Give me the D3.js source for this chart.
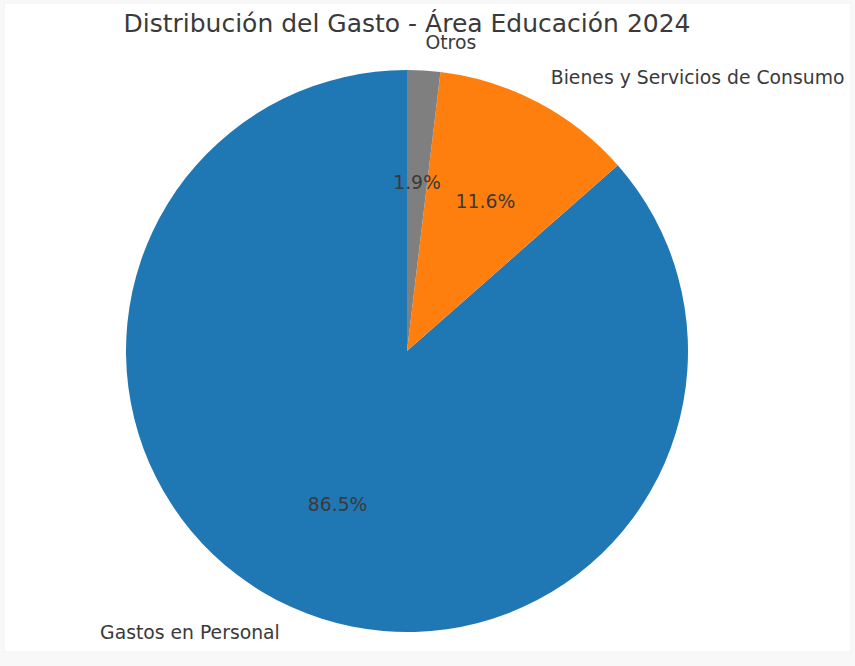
<!DOCTYPE html>
<html>
<head>
<meta charset="utf-8">
<script src="https://cdn.jsdelivr.net/npm/d3@7"></script>
<style>
  body { margin: 0; background: #f8f8f8; }
  svg { display: block; }
</style>
</head>
<body>
<svg id="chart" width="855" height="666"></svg>
<script>
const categories = ["Gastos en Personal", "Bienes y Servicios de Consumo", "Otros"];
const values = [86.5, 11.6, 1.9];
const colors = ["#1f77b4", "#ff7f0e", "#7f7f7f"];
const title = "Distribución del Gasto - Área Educación 2024";

const width = 855;
const height = 666;
const cx = 407;
const cy = 351;
const radius = 281;

const svg = d3.select("#chart");

// light frame like the screenshot
svg.append("rect")
  .attr("x", 4)
  .attr("y", 3)
  .attr("width", 847)
  .attr("height", 649)
  .attr("fill", "#fff")
  .attr("stroke", "#f1f1f1");

svg.append("text")
  .attr("x", cx)
  .attr("y", 32)
  .attr("text-anchor", "middle")
  .attr("font-family", "DejaVu Sans")
  .attr("font-size", 25)
  .attr("fill", "#3a3a3a")
  .text(title);

const data = categories.map((c, i) => ({ name: c, value: values[i], color: colors[i] }));

// matplotlib style: start at top, go counter-clockwise
const pie = d3.pie()
  .sort(null)
  .value((d) => d.value)
  .startAngle(0)
  .endAngle(-2 * Math.PI);

const arcs = pie(data);
const arc = d3.arc().innerRadius(0).outerRadius(radius);

const g = svg.append("g").attr("transform", `translate(${cx},${cy})`);

g.selectAll(".slice")
  .data(arcs)
  .enter()
  .append("path")
  .attr("class", "slice")
  .attr("d", arc)
  .attr("fill", (d) => d.data.color);

const mid = (d) => (d.startAngle + d.endAngle) / 2;
const total = d3.sum(values);

// category labels at 1.1 r
g.selectAll(".lbl")
  .data(arcs)
  .enter()
  .append("text")
  .attr("class", "lbl")
  .attr("x", (d) => Math.sin(mid(d)) * radius * 1.1)
  .attr("y", (d) => -Math.cos(mid(d)) * radius * 1.1)
  .attr("dy", "0.35em")
  .attr("text-anchor", (d) => (Math.sin(mid(d)) > 0 ? "start" : "end"))
  .attr("font-family", "DejaVu Sans")
  .attr("font-size", 18.8)
  .attr("fill", "#3a3a3a")
  .text((d) => d.data.name);

// percent labels at 0.6 r
g.selectAll(".pct")
  .data(arcs)
  .enter()
  .append("text")
  .attr("class", "pct")
  .attr("x", (d) => Math.sin(mid(d)) * radius * 0.6)
  .attr("y", (d) => -Math.cos(mid(d)) * radius * 0.6)
  .attr("dy", "0.35em")
  .attr("text-anchor", "middle")
  .attr("font-family", "DejaVu Sans")
  .attr("font-size", 18.8)
  .attr("fill", "#3a3a3a")
  .text((d) => ((d.data.value / total) * 100).toFixed(1) + "%");
</script>
</body>
</html>
